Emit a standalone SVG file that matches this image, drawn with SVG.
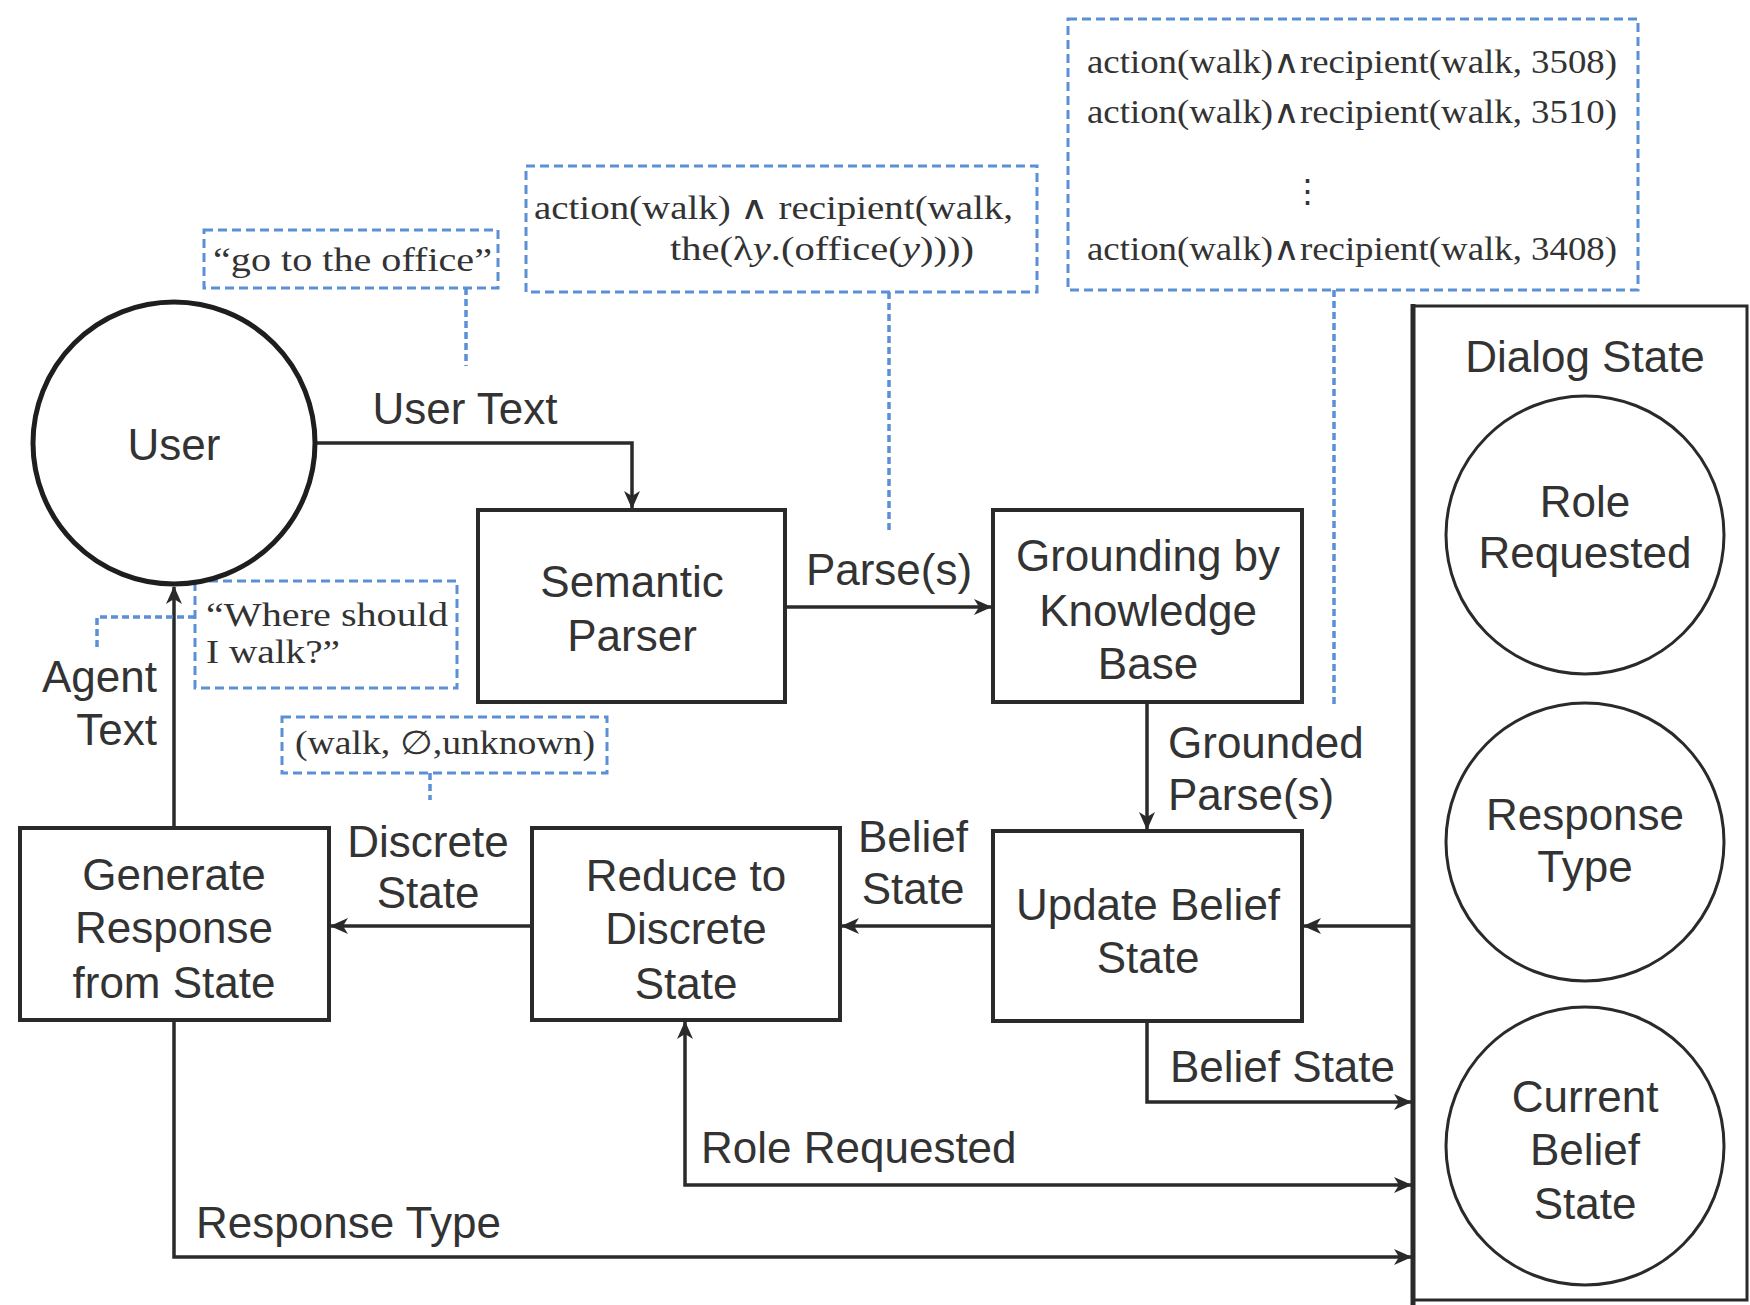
<svg xmlns="http://www.w3.org/2000/svg" width="1750" height="1305" viewBox="0 0 1750 1305">
<defs>
<style>
.box{fill:#fff;stroke:#2a2a2a;stroke-width:4}
.circ{fill:#fff;stroke:#2a2a2a;stroke-width:3}
.lbl{font-family:"Liberation Sans",Arial,sans-serif;font-size:44px;fill:#333;text-anchor:middle}
.elbl{font-family:"Liberation Sans",Arial,sans-serif;font-size:44px;fill:#333}
.conn{fill:none;stroke:#2a2a2a;stroke-width:3.5}
.ann{fill:#fff;stroke:#5b8fd6;stroke-width:3;stroke-dasharray:9 5}
.annl{fill:none;stroke:#5b8fd6;stroke-width:3.5;stroke-dasharray:7 4}
.math{font-family:"Liberation Serif","Times New Roman",serif;font-size:33px;fill:#333}
</style>
<marker id="arr" markerUnits="userSpaceOnUse" markerWidth="18" markerHeight="16" refX="17" refY="8" orient="auto-start-reverse">
<path d="M0,0 L18,8 L0,16 L5,8 z" fill="#2a2a2a"/>
</marker>
</defs>
<rect width="1750" height="1305" fill="#fff"/>

<g id="connectors">
<path class="conn" d="M315,443 H632 V508" marker-end="url(#arr)"/>
<path class="conn" d="M785,607 H991" marker-end="url(#arr)"/>
<path class="conn" d="M1147,702 V829" marker-end="url(#arr)"/>
<path class="conn" d="M1413,926 H1304" marker-end="url(#arr)"/>
<path class="conn" d="M993,926 H842" marker-end="url(#arr)"/>
<path class="conn" d="M532,926 H331" marker-end="url(#arr)"/>
<path class="conn" d="M174,828 V587" marker-end="url(#arr)"/>
<path class="conn" d="M1147,1021 V1102 H1411" marker-end="url(#arr)"/>
<path class="conn" d="M685,1022 V1185 H1411" marker-start="url(#arr)" marker-end="url(#arr)"/>
<path class="conn" d="M174,1020 V1257 H1411" marker-end="url(#arr)"/>
<text class="elbl" x="465" y="424" text-anchor="middle">User Text</text>
<text class="elbl" x="889" y="585" text-anchor="middle">Parse(s)</text>
<text class="elbl" x="1168" y="758">Grounded</text>
<text class="elbl" x="1168" y="810">Parse(s)</text>
<text class="elbl" x="913" y="852" text-anchor="middle">Belief</text>
<text class="elbl" x="913" y="904" text-anchor="middle">State</text>
<text class="elbl" x="428" y="857" text-anchor="middle">Discrete</text>
<text class="elbl" x="428" y="908" text-anchor="middle">State</text>
<text class="elbl" x="157" y="692" text-anchor="end">Agent</text>
<text class="elbl" x="157" y="745" text-anchor="end">Text</text>
<text class="elbl" x="1170" y="1082">Belief State</text>
<text class="elbl" x="701" y="1163">Role Requested</text>
<text class="elbl" x="196" y="1238">Response Type</text>
</g>

<g id="annotations">
<path class="annl" d="M466,288 V366"/>
<path class="annl" d="M889,292 V532"/>
<path class="annl" d="M1334,290 V704"/>
<path class="annl" d="M195,617 H97 V650"/>
<path class="annl" d="M430,773 V800"/>
<g id="ann-user-text">
<rect class="ann" x="204" y="230" width="294" height="58"/>
<text class="math" x="213" y="271" textLength="279" lengthAdjust="spacingAndGlyphs">“go to the office”</text>
</g>
<g id="ann-parse">
<rect class="ann" x="526" y="166" width="511" height="126"/>
<text class="math" x="534" y="219" textLength="479" lengthAdjust="spacingAndGlyphs">action(walk) ∧ recipient(walk,</text>
<text class="math" x="670" y="260" textLength="304" lengthAdjust="spacingAndGlyphs">the(λ<tspan font-style="italic">y</tspan>.(office(<tspan font-style="italic">y</tspan>))))</text>
</g>
<g id="ann-grounded">
<rect class="ann" x="1068" y="19" width="570" height="271"/>
<text class="math" x="1087" y="73" textLength="530" lengthAdjust="spacingAndGlyphs">action(walk)∧recipient(walk, 3508)</text>
<text class="math" x="1087" y="123" textLength="530" lengthAdjust="spacingAndGlyphs">action(walk)∧recipient(walk, 3510)</text>
<text class="math" x="1307" y="203" text-anchor="middle">⋮</text>
<text class="math" x="1087" y="260" textLength="530" lengthAdjust="spacingAndGlyphs">action(walk)∧recipient(walk, 3408)</text>
</g>
<g id="ann-agent-text">
<rect class="ann" x="195" y="581" width="262" height="107"/>
<text class="math" x="206" y="626" textLength="242" lengthAdjust="spacingAndGlyphs">“Where should</text>
<text class="math" x="206" y="663" textLength="134" lengthAdjust="spacingAndGlyphs">I walk?”</text>
</g>
<g id="ann-discrete">
<rect class="ann" x="282" y="717" width="325" height="56"/>
<text class="math" x="295" y="754" textLength="300" lengthAdjust="spacingAndGlyphs">(walk, ∅,unknown)</text>
</g>
</g>

<g id="user">
<circle cx="174" cy="443" r="141" fill="#fff" stroke="#1e1e1e" stroke-width="5"/>
<text class="lbl" x="174" y="460">User</text>
</g>
<g id="semantic-parser">
<rect class="box" x="478" y="510" width="307" height="192"/>
<text class="lbl" x="632" y="597">Semantic</text>
<text class="lbl" x="632" y="651">Parser</text>
</g>
<g id="grounding">
<rect class="box" x="993" y="510" width="309" height="192"/>
<text class="lbl" x="1148" y="571">Grounding by</text>
<text class="lbl" x="1148" y="626">Knowledge</text>
<text class="lbl" x="1148" y="679">Base</text>
</g>
<g id="update-belief">
<rect class="box" x="993" y="831" width="309" height="190"/>
<text class="lbl" x="1148" y="920">Update Belief</text>
<text class="lbl" x="1148" y="973">State</text>
</g>
<g id="reduce">
<rect class="box" x="532" y="828" width="308" height="192"/>
<text class="lbl" x="686" y="891">Reduce to</text>
<text class="lbl" x="686" y="944">Discrete</text>
<text class="lbl" x="686" y="999">State</text>
</g>
<g id="generate">
<rect class="box" x="20" y="828" width="309" height="192"/>
<text class="lbl" x="174" y="890">Generate</text>
<text class="lbl" x="174" y="943">Response</text>
<text class="lbl" x="174" y="998">from State</text>
</g>
<g id="dialog-state">
<rect x="1413" y="306" width="334" height="994" fill="#fff" stroke="#2a2a2a" stroke-width="3"/>
<line x1="1413" y1="304" x2="1413" y2="1305" stroke="#2a2a2a" stroke-width="5"/>
<text class="lbl" x="1585" y="372">Dialog State</text>
<g id="role-requested">
<circle class="circ" cx="1585" cy="535" r="139"/>
<text class="lbl" x="1585" y="517">Role</text>
<text class="lbl" x="1585" y="568">Requested</text>
</g>
<g id="response-type">
<circle class="circ" cx="1585" cy="842" r="139"/>
<text class="lbl" x="1585" y="830">Response</text>
<text class="lbl" x="1585" y="882">Type</text>
</g>
<g id="current-belief">
<circle class="circ" cx="1585" cy="1146" r="139"/>
<text class="lbl" x="1585" y="1112">Current</text>
<text class="lbl" x="1585" y="1165">Belief</text>
<text class="lbl" x="1585" y="1219">State</text>
</g>
</g>
</svg>
